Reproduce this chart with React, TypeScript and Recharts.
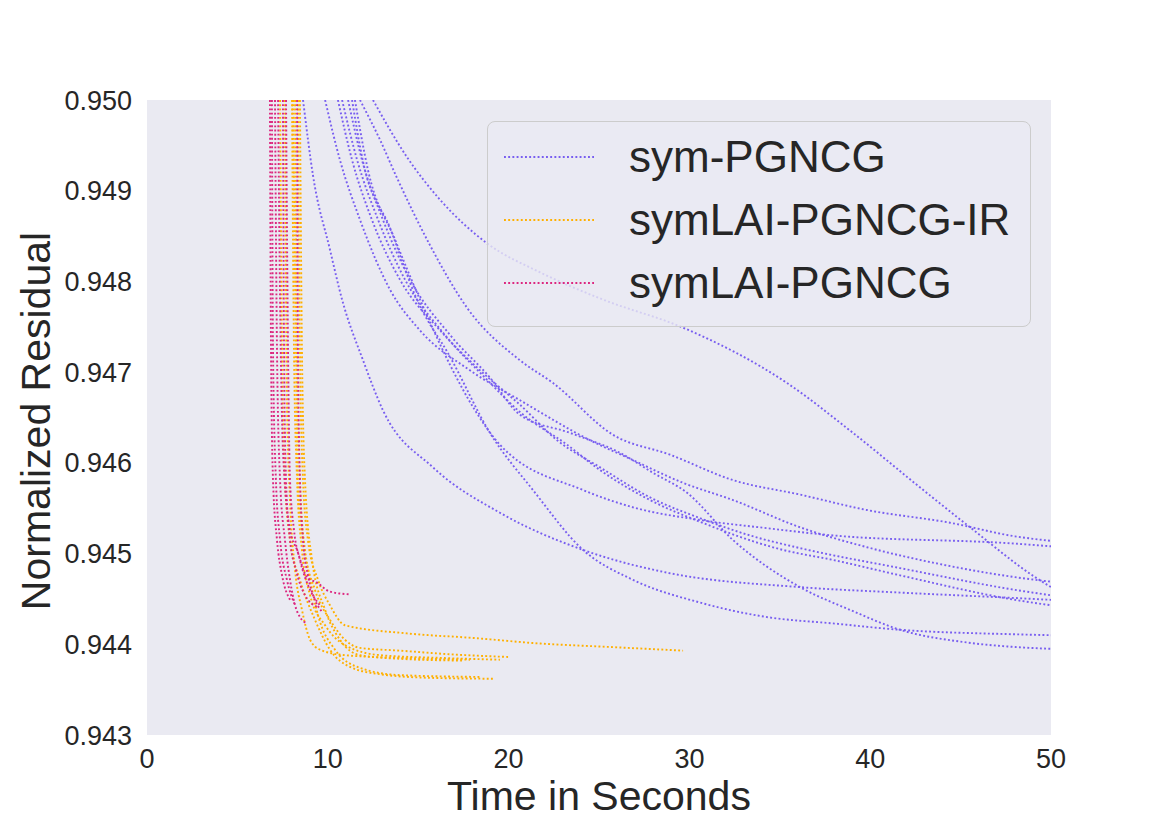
import React from 'react'
import { LineChart, Line, XAxis, YAxis, CartesianGrid, Legend } from 'recharts'

// [seconds, normalized residual]
const symRunA = [[12.5, 0.95], [14.38, 0.94937], [16.21, 0.9489], [18.81, 0.94842], [21.74, 0.9481], [25.22, 0.9478], [29.65, 0.94749], [35.4, 0.94688], [39.05, 0.94633], [42.75, 0.94573], [45.52, 0.94529], [49.12, 0.94474], [50, 0.94463]]
const symRunB = [[11.78, 0.95], [12.89, 0.94956], [13.83, 0.94914], [15.65, 0.9484], [17.7, 0.94771], [20.63, 0.94713], [22.46, 0.94688], [25.77, 0.94631], [28.93, 0.94609], [32.41, 0.94581], [36.12, 0.94565], [39.82, 0.94548], [44.41, 0.94534], [48.01, 0.94519], [50, 0.94514]]
const symRunC = [[11.5, 0.95], [12.22, 0.94923], [13.72, 0.94846], [15.1, 0.9478], [16.76, 0.94708], [18.14, 0.94658], [19.52, 0.9462], [24.12, 0.9457], [26.88, 0.94551], [30.59, 0.94537], [34.29, 0.94528], [37.94, 0.9452], [48.01, 0.94511], [50, 0.94508]]
const symRunD = [[11.34, 0.95], [11.95, 0.94932], [13.44, 0.94859], [14.93, 0.9478], [16.76, 0.94717], [18.97, 0.94633], [21.35, 0.9457], [24.12, 0.94504], [26.88, 0.94471], [30.59, 0.94446], [34.29, 0.9443], [37.94, 0.94423], [41.65, 0.94416], [48.01, 0.94411], [50, 0.9441]]
const symRunE = [[8.63, 0.95], [9.18, 0.94917], [10.12, 0.94835], [10.79, 0.9478], [11.95, 0.94713], [13.05, 0.94658], [15.82, 0.94595], [19.52, 0.94545], [24.12, 0.94504], [28.76, 0.94479], [36.12, 0.94463], [41.65, 0.94457], [48.01, 0.94451], [50, 0.94449]]
const symRunF = [[11.12, 0.95], [11.89, 0.94934], [13.05, 0.94868], [14.55, 0.94802], [16.76, 0.94741], [18.97, 0.94694], [20.63, 0.94653], [23.4, 0.94633], [26.16, 0.94611], [27.99, 0.94589], [29.87, 0.94567], [32.41, 0.94515], [36.12, 0.94463], [38.88, 0.94438], [41.65, 0.94416], [45.35, 0.94402], [48.01, 0.94397], [50, 0.94395]]
const symRunG = [[9.85, 0.95], [10.67, 0.94934], [11.78, 0.94868], [13.44, 0.94791], [15.1, 0.94746], [17.86, 0.94702], [20.63, 0.94669], [24.5, 0.94625], [26.88, 0.94603], [29.65, 0.94578], [32.41, 0.94559], [36.12, 0.94529], [39.82, 0.94507], [43.47, 0.9449], [48.01, 0.94474], [50, 0.94469]]
const symRunH = [[10.56, 0.95], [11.34, 0.94934], [12.44, 0.94868], [13.99, 0.94802], [16.21, 0.94746], [18.42, 0.94702], [20.63, 0.94664], [22.68, 0.94625], [25.06, 0.94595], [27.82, 0.94562], [30.59, 0.94539], [33.35, 0.9452], [36.12, 0.94506], [41.65, 0.94484], [48.01, 0.9446], [50, 0.94454]]
const symRunI = [[10.79, 0.95], [11.62, 0.94934], [12.78, 0.94868], [14.27, 0.94802], [16.48, 0.94741], [18.69, 0.94694], [20.63, 0.94656], [23.23, 0.9462], [25.06, 0.94592], [27.82, 0.94559], [30.59, 0.94535], [35.18, 0.94504], [37.94, 0.94493], [41.65, 0.94476], [48.01, 0.94449], [50, 0.94443]]

const irRunA = [[8.35, 0.95], [8.46, 0.94724], [8.63, 0.94581], [8.9, 0.94515], [9.46, 0.94471], [10.12, 0.94443], [10.95, 0.94421], [14.38, 0.94412], [18.03, 0.94407], [21.63, 0.94401], [25.61, 0.94397], [29.65, 0.94393]]
const irRunB = [[8.19, 0.95], [8.3, 0.94724], [8.46, 0.94581], [8.74, 0.94504], [9.29, 0.9446], [10.12, 0.94427], [10.95, 0.94405], [11.78, 0.94396], [13.99, 0.94393], [16.76, 0.94389], [19.97, 0.94386]]
const irRunC = [[8.02, 0.95], [8.13, 0.94724], [8.3, 0.94581], [8.57, 0.94504], [9.02, 0.94454], [9.85, 0.94421], [10.95, 0.94399], [12.89, 0.94388], [16.21, 0.94385], [19.52, 0.94383]]
const irRunD = [[8.46, 0.95], [8.57, 0.94724], [8.74, 0.94581], [9.13, 0.94493], [9.85, 0.94438], [10.67, 0.94405], [11.78, 0.94388], [13.99, 0.94384], [17.42, 0.94382]]
const irRunE = [[7.36, 0.95], [7.47, 0.94724], [7.63, 0.94581], [7.91, 0.94515], [8.46, 0.94471], [9.29, 0.94427], [10.12, 0.94394], [11.23, 0.94375], [12.89, 0.94367], [15.65, 0.94363], [19.14, 0.94362]]
const irRunF = [[8.08, 0.95], [8.24, 0.94724], [8.35, 0.94581], [8.63, 0.94515], [9.02, 0.94471], [9.46, 0.94432], [10.4, 0.94394], [11.78, 0.94374], [13.99, 0.94366], [18.42, 0.94364]]
const irRunG = [[7.63, 0.95], [7.74, 0.94669], [7.91, 0.94559], [8.19, 0.94482], [8.57, 0.94438], [9.02, 0.94405], [9.57, 0.94394], [10.95, 0.94388], [13.99, 0.94385], [17.86, 0.94383]]

const laiRunA = [[7.25, 0.95], [7.36, 0.9478], [7.52, 0.94614], [7.91, 0.94526], [8.3, 0.94504], [8.85, 0.94474], [9.4, 0.94468], [10.12, 0.94458], [11.23, 0.94455]]
const laiRunB = [[7.08, 0.95], [7.19, 0.94724], [7.36, 0.94581], [7.63, 0.94515], [7.91, 0.94471], [8.19, 0.94443], [8.46, 0.9443], [8.85, 0.94423]]
const laiRunC = [[6.91, 0.95], [6.97, 0.94724], [7.13, 0.94581], [7.36, 0.94515], [7.74, 0.94471], [8.19, 0.94443]]
const laiRunD = [[7.52, 0.95], [7.58, 0.94724], [7.69, 0.94581], [7.91, 0.94515], [8.24, 0.94482], [8.74, 0.94454], [9.46, 0.94441]]
const laiRunE = [[6.8, 0.95], [6.86, 0.94724], [6.97, 0.94581], [7.19, 0.94515], [7.47, 0.94476], [7.91, 0.94449]]
const laiRunF = [[7.69, 0.95], [7.8, 0.94724], [7.91, 0.94581], [8.13, 0.94526], [8.46, 0.94493], [9.02, 0.9446], [9.57, 0.94443]]
const laiRunG = [[8.3, 0.95], [8.35, 0.94724], [8.46, 0.94581], [8.63, 0.94515], [8.9, 0.94476], [9.29, 0.94449], [9.68, 0.94436]]

const xTicks = [0, 10, 20, 30, 40, 50]
const yTicks = [0.943, 0.944, 0.945, 0.946, 0.947, 0.948, 0.949, 0.95]

const SERIES = [
  { name: 'sym-PGNCG', color: '#785EF0', runs: [symRunA, symRunB, symRunC, symRunD, symRunE, symRunF, symRunG, symRunH, symRunI] },
  { name: 'symLAI-PGNCG-IR', color: '#FFB000', runs: [irRunA, irRunB, irRunC, irRunD, irRunE, irRunF, irRunG] },
  { name: 'symLAI-PGNCG', color: '#DC267F', runs: [laiRunA, laiRunB, laiRunC, laiRunD, laiRunE, laiRunF, laiRunG] }
]

const FONT = '"Liberation Sans", Arial, sans-serif'
const TEXT = '#262626'
const DASH = '1.9 2.3'
const WIDTH = 1.9

const toPoints = (run: number[][]) => run.map(([t, v]) => ({ t, v }))

const LegendBox = () => (
  <div
    style={{
      width: 544,
      height: 206,
      background: 'rgba(234,234,242,0.8)',
      border: '1px solid #CCCCCC',
      borderRadius: 8,
      boxSizing: 'border-box',
      position: 'relative',
      fontFamily: FONT
    }}
  >
    {SERIES.map((s, i) => (
      <div
        key={s.name}
        style={{ position: 'absolute', left: 16, top: 35 + i * 63 - 26, height: 52, display: 'flex', alignItems: 'center' }}
      >
        <svg width={90} height={4} style={{ display: 'block' }}>
          <line x1={0} y1={2} x2={90} y2={2} stroke={s.color} strokeWidth={WIDTH} strokeDasharray={DASH} />
        </svg>
        <span style={{ marginLeft: 35, fontSize: 44, color: TEXT, lineHeight: '52px', whiteSpace: 'nowrap' }}>{s.name}</span>
      </div>
    ))}
  </div>
)

export default function App() {
  return (
    <div style={{ position: 'absolute', left: 0, top: 0, width: 1170, height: 827, background: '#fff' }}>
      <LineChart width={1170} height={827} margin={{ top: 100, right: 119, bottom: 32, left: 47 }}>
        <CartesianGrid fill="#EAEAF2" stroke="none" horizontal={false} vertical={false} />
        <XAxis
          type="number"
          dataKey="t"
          domain={[0, 50]}
          ticks={xTicks}
          allowDataOverflow
          height={60}
          axisLine={false}
          tickLine={false}
          tickSize={0}
          tickMargin={14}
          tick={{ fill: TEXT, fontSize: 27, fontFamily: FONT }}
          label={{
            content: () => (
              <text x={599} y={810} textAnchor="middle" fill={TEXT} fontSize={41} fontFamily={FONT}>
                Time in Seconds
              </text>
            )
          }}
        />
        <YAxis
          type="number"
          dataKey="v"
          domain={[0.943, 0.95]}
          ticks={yTicks}
          allowDataOverflow
          width={100}
          axisLine={false}
          tickLine={false}
          tickSize={0}
          tickMargin={15}
          tickFormatter={(v: number) => v.toFixed(3)}
          tick={{ fill: TEXT, fontSize: 27, fontFamily: FONT }}
          label={{
            content: () => (
              <text
                x={36}
                y={421}
                transform="rotate(-90 36 421)"
                textAnchor="middle"
                dominantBaseline="central"
                fill={TEXT}
                fontSize={41}
                fontFamily={FONT}
              >
                Normalized Residual
              </text>
            )
          }}
        />
        {SERIES.map(s =>
          s.runs.map((run, i) => (
            <Line
              key={`${s.name}-${i}`}
              data={toPoints(run)}
              dataKey="v"
              type="monotone"
              stroke={s.color}
              strokeWidth={WIDTH}
              strokeDasharray={DASH}
              dot={false}
              activeDot={false}
              isAnimationActive={false}
            />
          ))
        )}
        <Legend
          layout="vertical"
          align="center"
          verticalAlign="middle"
          wrapperStyle={{ left: 487, top: 121, width: 544, height: 206 }}
          content={() => <LegendBox />}
        />
      </LineChart>
    </div>
  )
}
